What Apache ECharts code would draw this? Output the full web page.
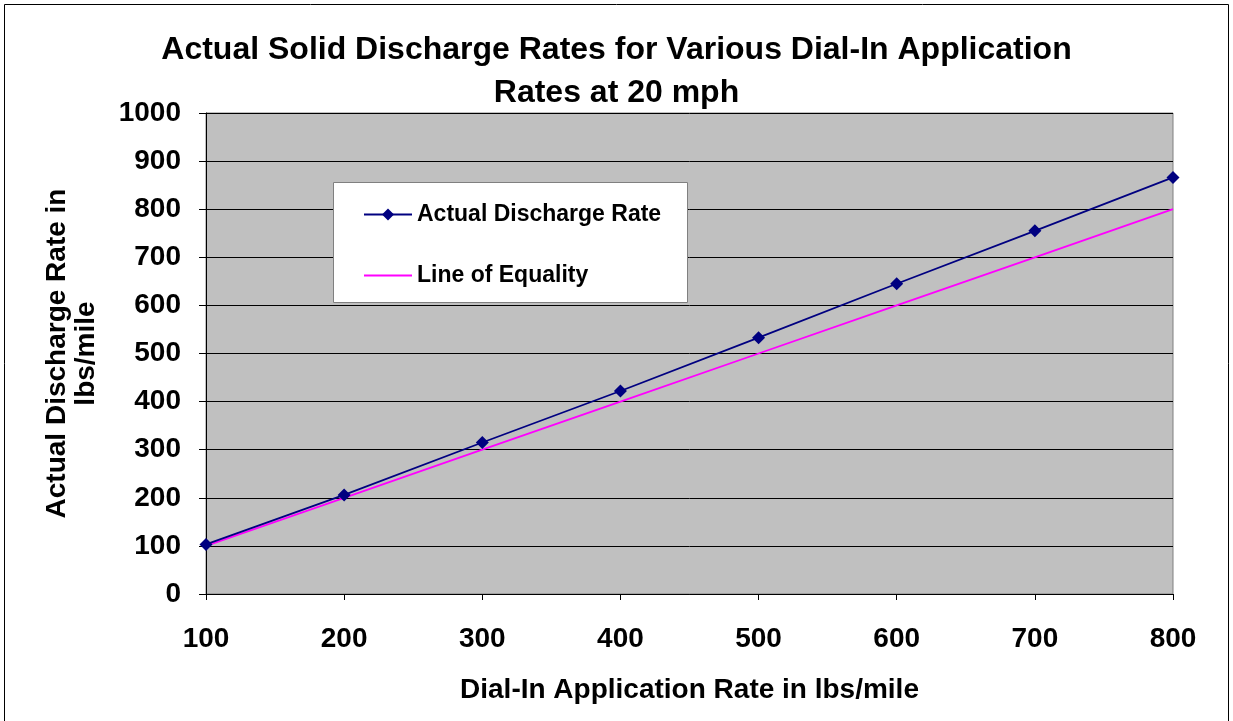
<!DOCTYPE html>
<html><head><meta charset="utf-8">
<script src="https://cdn.jsdelivr.net/npm/echarts@6/dist/echarts.min.js"></script>
<style>html,body{margin:0;padding:0;background:#fff}#c{width:1233px;height:721px}</style>
</head><body><div id="c"></div>
<script>
const dialRates = [100, 200, 300, 400, 500, 600, 700, 800];
const actualDischarge = [103, 206, 315, 422, 533, 645, 755, 866];
const equality = [100, 200, 300, 400, 500, 600, 700, 800];
const titleText = 'Actual Solid Discharge Rates for Various Dial-In Application\nRates at 20 mph';
const xName = 'Dial-In Application Rate in lbs/mile';
const yName = 'Actual Discharge Rate in\nlbs/mile';
const seriesNames = ['Actual Discharge Rate', 'Line of Equality'];

const font = 'Liberation Sans, Arial, sans-serif';
const chart = echarts.init(document.getElementById('c'), null, {renderer: 'canvas'});
chart.setOption({
  backgroundColor: '#fff',
  animation: false,
  title: {
    text: titleText, left: 'center', top: 24,
    textStyle: {fontFamily: font, fontWeight: 'bold', fontSize: 32, color: '#000', lineHeight: 43}
  },
  graphic: [
    {type: 'rect', shape: {x: 4.5, y: 4.5, width: 1224, height: 730}, style: {fill: null, stroke: '#000', lineWidth: 1}, z: 0},
    {type: 'rect', shape: {x: 333.5, y: 182.5, width: 354, height: 120}, style: {fill: '#fff', stroke: '#808080', lineWidth: 1}, z: 50}
  ],
  legend: {
    orient: 'vertical', left: 358, top: 198, itemGap: 38, itemWidth: 48, itemHeight: 15,
    z: 60,
    textStyle: {fontFamily: font, fontWeight: 'bold', fontSize: 23, color: '#000'},
    data: [
      {name: seriesNames[0]},
      {name: seriesNames[1], itemStyle: {opacity: 0}}
    ]
  },
  grid: {
    left: 206, top: 113, right: 60, bottom: 127,
    show: true, backgroundColor: '#c0c0c0', borderColor: '#808080', borderWidth: 1
  },
  xAxis: {
    type: 'value', min: 100, max: 800, interval: 100,
    name: xName, nameLocation: 'middle', nameGap: 82,
    nameTextStyle: {fontFamily: font, fontWeight: 'bold', fontSize: 28, color: '#000'},
    axisLine: {show: true, lineStyle: {color: '#000', width: 1}},
    axisTick: {show: true, length: 6, lineStyle: {color: '#000'}},
    axisLabel: {fontFamily: font, fontWeight: 'bold', fontSize: 28, color: '#000', margin: 31},
    splitLine: {show: false}
  },
  yAxis: {
    type: 'value', min: 0, max: 1000, interval: 100,
    name: yName, nameLocation: 'middle', nameGap: 105, nameRotate: 90,
    nameTextStyle: {fontFamily: font, fontWeight: 'bold', fontSize: 28, color: '#000', lineHeight: 29},
    axisLine: {show: true, lineStyle: {color: '#000', width: 1}},
    axisTick: {show: true, length: 7, lineStyle: {color: '#000'}},
    axisLabel: {fontFamily: font, fontWeight: 'bold', fontSize: 28, color: '#000', margin: 25, formatter: v => String(v)},
    splitLine: {show: true, lineStyle: {color: '#000', width: 1}}
  },
  series: [
    {
      name: seriesNames[0], type: 'line',
      data: dialRates.map((x, i) => [x, actualDischarge[i]]),
      lineStyle: {color: '#000080', width: 1.8}, itemStyle: {color: '#000080'},
      symbol: 'diamond', symbolSize: 13, z: 5
    },
    {
      name: seriesNames[1], type: 'line',
      data: dialRates.map((x, i) => [x, equality[i]]),
      lineStyle: {color: '#ff00ff', width: 1.8}, itemStyle: {color: '#ff00ff'},
      symbol: 'none', showSymbol: false, z: 4
    }
  ]
});
</script></body></html>
